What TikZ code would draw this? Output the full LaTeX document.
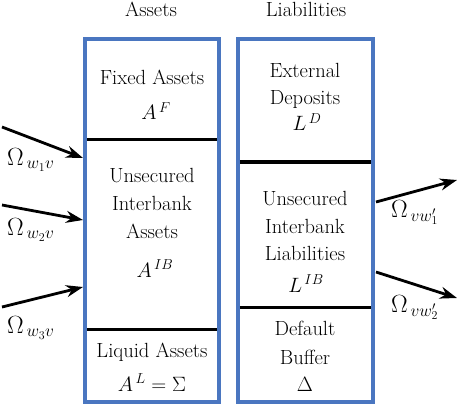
\documentclass[tikz,border=0pt]{standalone}
\usetikzlibrary{arrows.meta}
\definecolor{boxblue}{HTML}{4A76C0}
\begin{document}
\begin{tikzpicture}[x=1pt,y=-1pt,
  txt/.style={anchor=base,inner sep=0pt,font=\fontsize{20.5}{24}\selectfont},
  mth/.style={anchor=base,inner sep=0pt,font=\fontsize{22.5}{26}\selectfont},
  mthsmall/.style={anchor=base,inner sep=0pt,font=\fontsize{21}{24}\selectfont},
  lbl/.style={anchor=base west,inner sep=0pt,font=\fontsize{23}{26}\selectfont},
  sheet/.style={draw=boxblue,line width=3.5pt},
  divider/.style={draw=black,line width=3pt},
  flow/.style={line width=2.8pt,-{Stealth[length=17pt,width=12pt]}}]
\useasboundingbox (0,0) rectangle (457,406);
% boxes
\draw[sheet] (85,39) rectangle (219,402);
\draw[sheet] (238,39) rectangle (373,402);
% dividers
\coordinate (l1a) at (86.75,140); \coordinate (l1b) at (217.25,140);
\coordinate (l2a) at (86.75,329); \coordinate (l2b) at (217.25,329);
\coordinate (r1a) at (239.75,162); \coordinate (r1b) at (371.25,162);
\coordinate (r2a) at (239.75,307); \coordinate (r2b) at (371.25,307);
\draw[divider] (l1a) -- (l1b);
\draw[divider] (l2a) -- (l2b);
\draw[divider] (r1a) -- (r1b);
\draw[divider] (r2a) -- (r2b);
% headers
\node[txt] (hA) at (151,17) {Assets};
\node[txt] (hL) at (306,17) {Liabilities};
% left box
\node[txt] (fa) at (152,85) {Fixed Assets};
\node[mthsmall] (af) at (156,120) {$A^{\,F}$};
\node[txt] (u1) at (152,182) {Unsecured};
\node[txt] (i1) at (152,210) {Interbank};
\node[txt] (as) at (152,238) {Assets};
\node[mth] (aib) at (155,277) {$A^{\,IB}$};
\node[txt] (la) at (152,357) {Liquid Assets};
\node[txt] (al) at (152,391) {$A^{\,L}=\Sigma$};
% right box
\node[txt] (ex) at (305,78) {External};
\node[txt] (de) at (305,105) {Deposits};
\node[mth] (ld) at (307,131) {$L^{\,D}$};
\node[txt] (u2) at (305,205) {Unsecured};
\node[txt] (i2) at (305,233) {Interbank};
\node[txt] (li) at (305,260) {Liabilities};
\node[mth] (lib) at (306,292) {$L^{\,IB}$};
\node[txt] (df) at (305,335) {Default};
\node[txt] (bf) at (305,364) {Buffer};
\node[txt] (dl) at (305,391) {$\Delta$};
% incoming flows
\coordinate (s1) at (2,127); \coordinate (t1) at (83,158);
\coordinate (s2) at (2,205); \coordinate (t2) at (83,220);
\coordinate (s3) at (2,307); \coordinate (t3) at (83,287);
\draw[flow] (s1) -- (t1);
\draw[flow] (s2) -- (t2);
\draw[flow] (s3) -- (t3);
\node[lbl] (o1) at (7,165) {$\Omega_{\,w_1v}$};
\node[lbl] (o2) at (7,235) {$\Omega_{\,w_2v}$};
\node[lbl] (o3) at (7,333) {$\Omega_{\,w_3v}$};
% outgoing flows
\coordinate (s4) at (376,202); \coordinate (t4) at (457,180);
\coordinate (s5) at (376,272); \coordinate (t5) at (457,298);
\draw[flow] (s4) -- (t4);
\draw[flow] (s5) -- (t5);
\node[lbl] (o4) at (391,217) {$\Omega_{\,vw_1'}$};
\node[lbl] (o5) at (391,312) {$\Omega_{\,vw_2'}$};
\end{tikzpicture}
\end{document}
